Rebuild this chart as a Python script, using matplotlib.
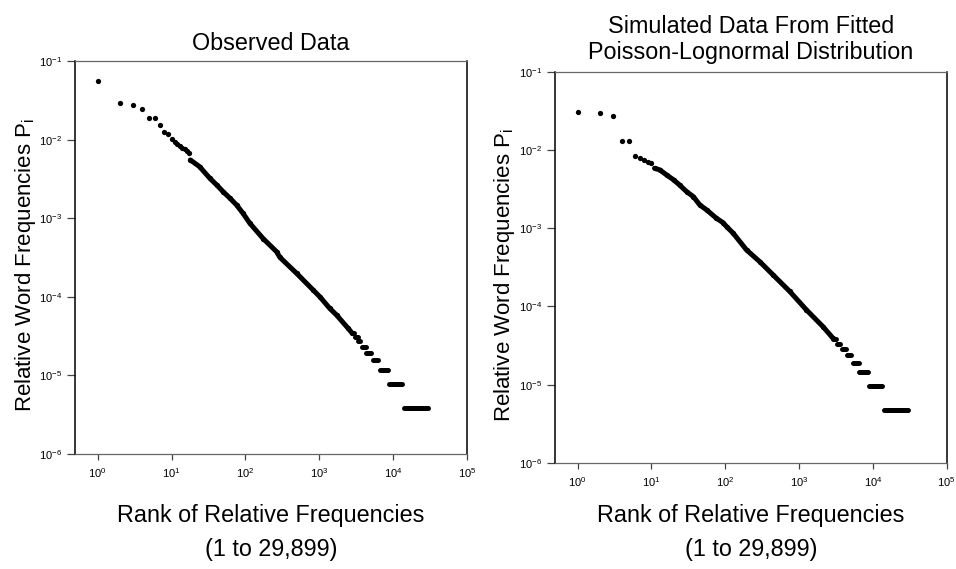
import matplotlib
matplotlib.use("Agg")
import matplotlib.pyplot as plt
from matplotlib.ticker import NullLocator

plt.rcParams['font.family'] = ['Liberation Sans', 'DejaVu Sans']
plt.rcParams['mathtext.fontset'] = 'custom'
plt.rcParams['mathtext.rm'] = 'Liberation Sans'
plt.rcParams['mathtext.it'] = 'Liberation Sans:italic'
plt.rcParams['mathtext.bf'] = 'Liberation Sans:bold'

# ---------------- Observed data (left) ----------------
obs_head_rank = [1, 2, 3, 4, 5, 6, 7, 8, 9, 10, 11, 12, 13, 14, 15, 16, 17]
obs_head_freq = [0.056, 0.0295, 0.0273, 0.0243, 0.0187, 0.0187, 0.0154, 0.0126,
                 0.0118, 0.0101, 0.0093, 0.0087, 0.0082, 0.0079, 0.0075, 0.0072, 0.0068]
obs_body_rank = [18, 24, 33, 41, 50, 62, 76, 93, 115, 174, 264, 293, 493, 826,
                 1019, 1390, 1714, 2460, 2750]
obs_body_freq = [0.0055, 0.00452, 0.00322, 0.00264, 0.00217, 0.00179, 0.00147,
                 0.00115, 8.6e-4, 5.5e-4, 3.75e-4, 3.18e-4, 1.99e-4, 1.22e-4,
                 1.0e-4, 7.1e-5, 5.86e-5, 3.97e-5, 3.5e-5]
obs_tail_start = [2750, 3000, 3380, 3750, 4350, 5300, 6600, 8700, 13900]
obs_tail_end = [2950, 3300, 3560, 4250, 5000, 6300, 8500, 13300, 29899]
obs_tail_freq = [3.49e-5, 3.1e-5, 2.72e-5, 2.33e-5, 1.94e-5, 1.55e-5, 1.16e-5,
                 7.76e-6, 3.88e-6]

# ---------------- Simulated data (right) ----------------
sim_head_rank = [1, 2, 3, 4, 5, 6, 7, 8, 9, 10]
sim_head_freq = [0.0305, 0.0294, 0.0272, 0.0130, 0.0130, 0.00845, 0.00783,
                 0.00745, 0.0071, 0.00689]
sim_body_rank = [11, 13, 16, 20, 24, 30, 37, 45, 56, 76, 93, 104, 128, 194, 293,
                 443, 746, 1256, 2106, 2880]
sim_body_freq = [0.00583, 0.00556, 0.0048, 0.00414, 0.00357, 0.00293, 0.00253,
                 0.00199, 0.00171, 0.00134, 0.00118, 0.00105, 8.63e-4, 5.28e-4,
                 3.74e-4, 2.54e-4, 1.56e-4, 9.06e-5, 5.53e-5, 3.93e-5]
sim_tail_start = [2880, 3280, 3830, 4480, 5350, 6560, 8810, 14150]
sim_tail_end = [3150, 3630, 4380, 5120, 6440, 8610, 13330, 29899]
sim_tail_freq = [3.84e-5, 3.36e-5, 2.88e-5, 2.4e-5, 1.92e-5, 1.44e-5, 9.6e-6, 4.8e-6]

x_tick_values = [1e0, 1e1, 1e2, 1e3, 1e4, 1e5]
y_tick_values = [1e-6, 1e-5, 1e-4, 1e-3, 1e-2, 1e-1]

titles = ["Observed Data", "Simulated Data From Fitted\nPoisson-Lognormal Distribution"]
y_label = "Relative Word Frequencies P$_{\\mathregular{i}}$"
x_label = "Rank of Relative Frequencies\n(1 to 29,899)"

fig = plt.figure(figsize=(9.56, 5.69), dpi=100)
ax1 = fig.add_axes([75/956, 1-454/569, 392/956, 393/569])
ax2 = fig.add_axes([555/956, 1-463/569, 391.7/956, 391.3/569])

MS = 3.8
LW = 3.6

def draw(ax, hr, hf, br, bf, ts, te, tf, title, title_pad, xlab_y, ylab_x):
    ax.plot(hr, hf, 'o', color='black', ms=MS, mew=0)
    ax.plot(br, bf, '-', color='black', lw=LW, solid_capstyle='round',
            solid_joinstyle='round')
    ax.plot(br, bf, 'o', color='black', ms=MS, mew=0)
    for s, e, f in zip(ts, te, tf):
        ax.plot([s, e], [f, f], '-', color='black', lw=LW, solid_capstyle='round')
    ax.set_xscale('log')
    ax.set_yscale('log')
    ax.set_xlim(10**-0.307, 1e5)
    ax.set_ylim(1e-6, 1e-1)
    ax.set_xticks(x_tick_values)
    ax.set_yticks(y_tick_values)
    ax.xaxis.set_minor_locator(NullLocator())
    ax.yaxis.set_minor_locator(NullLocator())
    ax.tick_params(axis='x', direction='out', length=4.3, width=0.9, color='#444',
                   labelsize=8, pad=4.5)
    ax.tick_params(axis='y', direction='out', length=5.8, width=0.9, color='#444',
                   labelsize=8, pad=3.5)
    for side in ['top', 'bottom']:
        ax.spines[side].set_color('#666666')
        ax.spines[side].set_linewidth(0.9)
    for side in ['left', 'right']:
        ax.spines[side].set_color('black')
        ax.spines[side].set_linewidth(1.1)
    ax.set_title(title, fontsize=16.8, pad=title_pad, linespacing=1.12)
    ax.set_xlabel(x_label, fontsize=16.8, linespacing=1.6)
    ax.xaxis.set_label_coords(0.5, xlab_y)
    ax.set_ylabel(y_label, fontsize=16)
    ax.yaxis.set_label_coords(ylab_x, 0.48)

draw(ax1, obs_head_rank, obs_head_freq, obs_body_rank, obs_body_freq,
     obs_tail_start, obs_tail_end, obs_tail_freq, titles[0], 8, -0.127, -0.095)
draw(ax2, sim_head_rank, sim_head_freq, sim_body_rank, sim_body_freq,
     sim_tail_start, sim_tail_end, sim_tail_freq, titles[1], 9.5, -0.105, -0.097)

fig.savefig("out.png", dpi=100, facecolor='white')
